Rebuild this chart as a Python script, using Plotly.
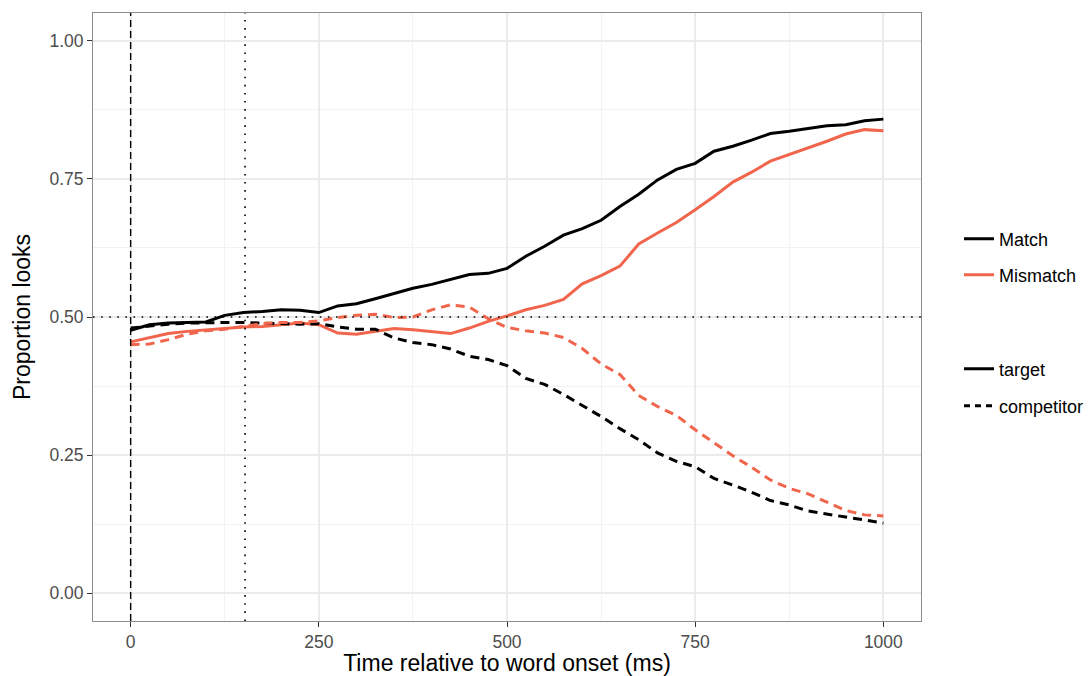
import plotly.graph_objects as go

time_ms = [0, 25, 50, 75, 100, 125, 150, 175, 200, 225, 250, 275, 300, 325, 350, 375, 400,
           425, 450, 475, 500, 525, 550, 575, 600, 625, 650, 675, 700, 725, 750, 775, 800,
           825, 850, 875, 900, 925, 950, 975, 1000]

match_target = [0.476, 0.486, 0.489, 0.490, 0.491, 0.503, 0.508, 0.510, 0.513, 0.512, 0.508,
                0.520, 0.524, 0.533, 0.543, 0.552, 0.559, 0.568, 0.577, 0.579, 0.588, 0.610,
                0.628, 0.648, 0.660, 0.675, 0.700, 0.722, 0.748, 0.767, 0.778, 0.800, 0.809,
                0.820, 0.832, 0.836, 0.841, 0.846, 0.848, 0.855, 0.858]

mismatch_target = [0.455, 0.463, 0.470, 0.474, 0.477, 0.480, 0.482, 0.483, 0.486, 0.489, 0.486,
                   0.471, 0.469, 0.474, 0.479, 0.477, 0.474, 0.470, 0.480, 0.492, 0.502, 0.513,
                   0.521, 0.532, 0.560, 0.575, 0.592, 0.632, 0.652, 0.671, 0.694, 0.718, 0.744,
                   0.762, 0.782, 0.794, 0.805, 0.818, 0.831, 0.839, 0.837]

match_competitor = [0.480, 0.484, 0.487, 0.489, 0.490, 0.490, 0.490, 0.489, 0.487, 0.487, 0.488,
                    0.482, 0.478, 0.478, 0.462, 0.454, 0.450, 0.442, 0.429, 0.423, 0.412, 0.389,
                    0.378, 0.360, 0.340, 0.320, 0.298, 0.278, 0.254, 0.239, 0.229, 0.208, 0.196,
                    0.183, 0.168, 0.160, 0.149, 0.143, 0.138, 0.133, 0.127]

mismatch_competitor = [0.450, 0.451, 0.459, 0.469, 0.475, 0.478, 0.483, 0.488, 0.490, 0.490, 0.493,
                       0.499, 0.503, 0.505, 0.499, 0.500, 0.513, 0.522, 0.518, 0.497, 0.481, 0.475,
                       0.471, 0.463, 0.443, 0.415, 0.396, 0.358, 0.338, 0.322, 0.296, 0.273, 0.249,
                       0.228, 0.205, 0.190, 0.180, 0.165, 0.150, 0.142, 0.140]

x_ticks = [0, 250, 500, 750, 1000]
y_ticks = [0.00, 0.25, 0.50, 0.75, 1.00]
onset_ms = 0
ref_ms = 152
chance = 0.5

BLACK = "#000000"
RED = "#F0654C"
FONT = "Liberation Sans, Arial, Helvetica, sans-serif"
DASH = "9px,6px"

fig = go.Figure()

series = [
    (match_target, BLACK, "solid"),
    (mismatch_target, RED, "solid"),
    (match_competitor, BLACK, DASH),
    (mismatch_competitor, RED, DASH),
]
for ys, col, dash in series:
    fig.add_trace(go.Scatter(x=time_ms, y=ys, mode="lines", showlegend=False,
                             line=dict(color=col, width=3, dash=dash)))

# legend entries
legend_items = [
    ("Match", BLACK, "solid", "legend"),
    ("Mismatch", RED, "solid", "legend2"),
    ("target", BLACK, "solid", "legend3"),
    ("competitor", BLACK, "6px,5px", "legend4"),
]
for name, col, dash, lg in legend_items:
    fig.add_trace(go.Scatter(x=[None], y=[None], mode="lines", name=name, legend=lg,
                             line=dict(color=col, width=3, dash=dash)))

# reference lines
fig.add_shape(type="line", xref="x", yref="paper", x0=onset_ms, x1=onset_ms, y0=0, y1=1,
              line=dict(color="black", width=1.4, dash="7px,4px"), layer="above")
fig.add_shape(type="line", xref="x", yref="paper", x0=ref_ms, x1=ref_ms, y0=0, y1=1,
              line=dict(color="black", width=1.6, dash="1.6px,6.5px"), layer="above")
fig.add_shape(type="line", xref="paper", yref="y", x0=0, x1=1, y0=chance, y1=chance,
              line=dict(color="black", width=1.6, dash="1.6px,6.5px"), layer="above")

# figure fills the whole window (body margin removed by the post script)
W, H = 1089, 676
PLOT_L, PLOT_R, PLOT_T, PLOT_B = 93, 921, 13, 621   # panel edges in pixels
L, R, T, B = PLOT_L, W - PLOT_R, PLOT_T, H - PLOT_B
pw, ph = W - L - R, H - T - B


def lx(px):
    return (px - L) / pw


def ly(py):
    return (H - B - py) / ph


leg_common = dict(font=dict(family=FONT, size=18, color="black"), bgcolor="rgba(0,0,0,0)",
                  borderwidth=0, xanchor="left", yanchor="middle", itemwidth=30)
LEG_X = 959
fig.update_layout(
    legend=dict(x=lx(LEG_X), y=ly(239), **leg_common),
    legend2=dict(x=lx(LEG_X), y=ly(275), **leg_common),
    legend3=dict(x=lx(LEG_X), y=ly(369), **leg_common),
    legend4=dict(x=lx(LEG_X), y=ly(406), **leg_common),
)

axis_common = dict(
    showline=True, linecolor="#8c8c8c", linewidth=1, mirror=True,
    showgrid=True, gridcolor="#ebebeb", gridwidth=1.5,
    zeroline=False,
    ticks="outside", ticklen=5, tickwidth=1, tickcolor="#333333",
    tickfont=dict(family=FONT, size=17.5, color="#4d4d4d"),
)

fig.update_xaxes(range=[-50, 1050], tickvals=x_ticks, ticktext=[str(v) for v in x_ticks],
                 title=dict(text="Time relative to word onset (ms)",
                            font=dict(family=FONT, size=23, color="black"), standoff=9),
                 minor=dict(showgrid=True, gridcolor="#f2f2f2", gridwidth=1,
                            tickvals=[125, 375, 625, 875], ticks=""),
                 **axis_common)
fig.update_yaxes(range=[-0.05, 1.05], tickvals=y_ticks, ticktext=[f"{v:.2f}" for v in y_ticks],
                 title=dict(text="Proportion looks",
                            font=dict(family=FONT, size=23, color="black"), standoff=12),
                 minor=dict(showgrid=True, gridcolor="#f2f2f2", gridwidth=1,
                            tickvals=[0.125, 0.375, 0.625, 0.875], ticks=""),
                 **axis_common)

fig.update_layout(
    width=W, height=H,
    margin=dict(l=L, r=R, t=T, b=B, autoexpand=False),
    plot_bgcolor="white", paper_bgcolor="white",
    font=dict(family=FONT),
)

fig.write_html("out.html", config={"displayModeBar": False},
               post_script="document.body.style.margin='0';document.body.style.overflow='hidden';")
